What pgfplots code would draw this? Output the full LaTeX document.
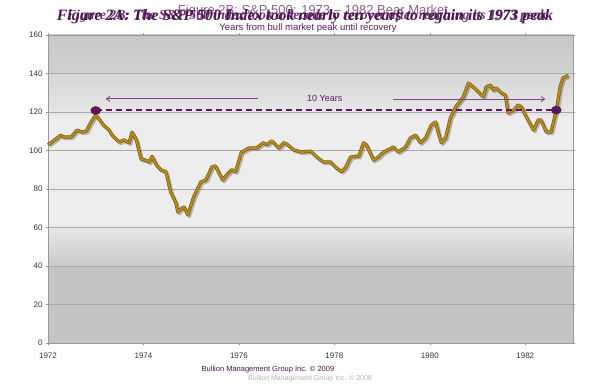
\documentclass[border=0pt]{standalone}
\usepackage{pgfplots}
\pgfplotsset{compat=1.18}
\usepackage{graphicx}
\usepackage{fontspec}
\setmainfont{Liberation Sans}
\newfontfamily\serifbi{Liberation Serif}
\usetikzlibrary{arrows.meta}
\definecolor{gold}{RGB}{184,140,24}
\definecolor{golddark}{RGB}{115,82,10}
\definecolor{purp}{RGB}{95,22,100}
\definecolor{purparrow}{RGB}{125,70,140}
\definecolor{titlep}{RGB}{90,25,95}
\pgfplotstableread{
x y
1972.00 103
1972.08 104.4
1972.27 108
1972.33 107
1972.48 107
1972.61 110.6
1972.71 109.6
1972.80 110
1972.90 114.8
1973.00 118.5
1973.17 113
1973.28 110.6
1973.34 108
1973.49 104.4
1973.59 105.5
1973.70 104
1973.76 109.5
1973.85 105.5
1973.95 95.5
1974.05 95
1974.12 94
1974.18 97
1974.27 92.5
1974.36 90
1974.47 89
1974.57 78.4
1974.68 72.7
1974.72 68
1974.78 69.5
1974.85 70.6
1974.93 66.5
1975.05 75.8
1975.20 83.6
1975.31 84.7
1975.43 91.4
1975.51 92
1975.58 88.3
1975.66 84.7
1975.74 87.3
1975.85 90
1975.93 89
1976.05 99
1976.21 101.3
1976.37 101.3
1976.51 104
1976.58 103
1976.69 105
1976.83 101.3
1976.94 104
1977.00 103.4
1977.15 100.3
1977.31 99.2
1977.50 99.7
1977.63 96.6
1977.77 94
1977.92 94
1978.04 91
1978.15 89
1978.23 91
1978.34 96.6
1978.44 97
1978.51 97
1978.61 104
1978.67 103
1978.82 95
1978.92 96.6
1979.03 99.2
1979.24 101.8
1979.34 99.2
1979.49 101.8
1979.59 106.5
1979.70 108
1979.80 104
1979.91 106.5
1980.03 113.2
1980.12 114.8
1980.18 109
1980.24 104
1980.33 106.5
1980.43 116.9
1980.54 122.6
1980.70 127.8
1980.81 135
1980.91 133
1981.02 130.4
1981.12 127.8
1981.18 133
1981.27 134
1981.33 131.4
1981.39 132.5
1981.50 129.9
1981.58 128.8
1981.64 119.5
1981.75 121
1981.85 123.6
1981.92 122.6
1982.00 118.4
1982.17 110.6
1982.27 115.8
1982.33 115.8
1982.44 109.6
1982.54 109.6
1982.65 121
1982.73 133
1982.79 137.7
1982.90 139
}\spx
\begin{document}
\begin{tikzpicture}
\useasboundingbox (0pt,0pt) rectangle (609pt,385pt);
\pgfplotsset{myframe/.style={at={(48pt,42pt)}, anchor=south west,
  scale only axis, width=525pt, height=308pt,
  xmin=1972, xmax=1983, ymin=0, ymax=160}}
% background bands
\begin{axis}[myframe, hide axis]
\fill[black!23] (axis cs:1972,0) rectangle (axis cs:1983,40);
\fill[bottom color=black!21, top color=black!8] (axis cs:1972,40) rectangle (axis cs:1983,62);
\fill[black!7] (axis cs:1972,62) rectangle (axis cs:1983,118);
\fill[bottom color=black!9, top color=black!16] (axis cs:1972,118) rectangle (axis cs:1983,140);
\fill[bottom color=black!18, top color=black!22] (axis cs:1972,140) rectangle (axis cs:1983,160);
\end{axis}
\begin{axis}[
  myframe,
  xtick={1972,1974,...,1982}, ytick={0,20,...,160},
  /pgf/number format/1000 sep={},
  /pgf/number format/assume math mode=true,
  ticklabel style={font=\fontsize{8}{9.5}\selectfont, text=black!80},
  xticklabel style={yshift=-4pt},
  ymajorgrids,
  major grid style={color=black!33, line width=0.9pt},
  axis line style={color=black!40},
  tick style={color=black!40},
  tick align=outside, major tick length=2pt,
  clip=false,
]
% shadow
\addplot[no marks, color=black!50, opacity=0.55, line width=3.2pt, line join=round, transform canvas={xshift=1.6pt, yshift=-1.6pt}] table {\spx};
\addplot[no marks, color=golddark, line width=3.2pt, line join=round] table {\spx};
\addplot[no marks, color=gold, line width=2pt, line join=round] table {\spx};
% dashed level
\addplot[no marks, color=purp, line width=1.6pt, dash pattern=on 6pt off 4pt] coordinates {(1973.0,121) (1982.65,121)};
% dots
\addplot[only marks, mark=*, mark size=4pt, color=purp!70!black, fill=purp, every mark/.append style={xscale=1.25}] coordinates {(1973.0,120.8) (1982.65,121)};
% arrows
\draw[-{Straight Barb[length=3.5pt,width=5pt]}, color=purparrow, line width=0.9pt] (axis cs:1976.41,126.8) -- (axis cs:1973.21,126.8);
\draw[-{Straight Barb[length=3.5pt,width=5pt]}, color=purparrow, line width=0.9pt] (axis cs:1979.22,126.7) -- (axis cs:1982.42,126.7);
\node[color=purp, font=\fontsize{9}{11}\selectfont] at (axis cs:1977.8,127) {10 Years};
\end{axis}
% titles
\node[color=titlep!70, font=\fontsize{13}{15}\selectfont] at (313pt,374pt) {Figure 2B: S\&P 500: 1973 -- 1982 Bear Market};
\node[color=titlep!90!black] at (305pt,368pt) {\resizebox{496pt}{!}{\serifbi\bfseries\itshape Figure 2A: The S\&P 500 Index took nearly ten years to regain its 1973 peak}};
\node[color=titlep!85!black, opacity=0.85] at (307pt,368.5pt) {\resizebox{480pt}{!}{\serifbi\bfseries\itshape Figure 2B: The S\&P 500 index took a decade to recover after reaching its 1973 peak}};
\node[color=titlep, font=\fontsize{9.5}{11}\selectfont] at (308pt,356.5pt) {Years from bull market peak until recovery};
% footer
\node[color=titlep!80!black, font=\fontsize{7.5}{9}\selectfont] at (268pt,15pt) {Bullion Management Group Inc. \textcopyright{} 2009};
\node[color=black!30, font=\fontsize{7}{8}\selectfont] at (310pt,6.5pt) {Bullion Management Group Inc. \textcopyright{} 2009};
\end{tikzpicture}
\end{document}
